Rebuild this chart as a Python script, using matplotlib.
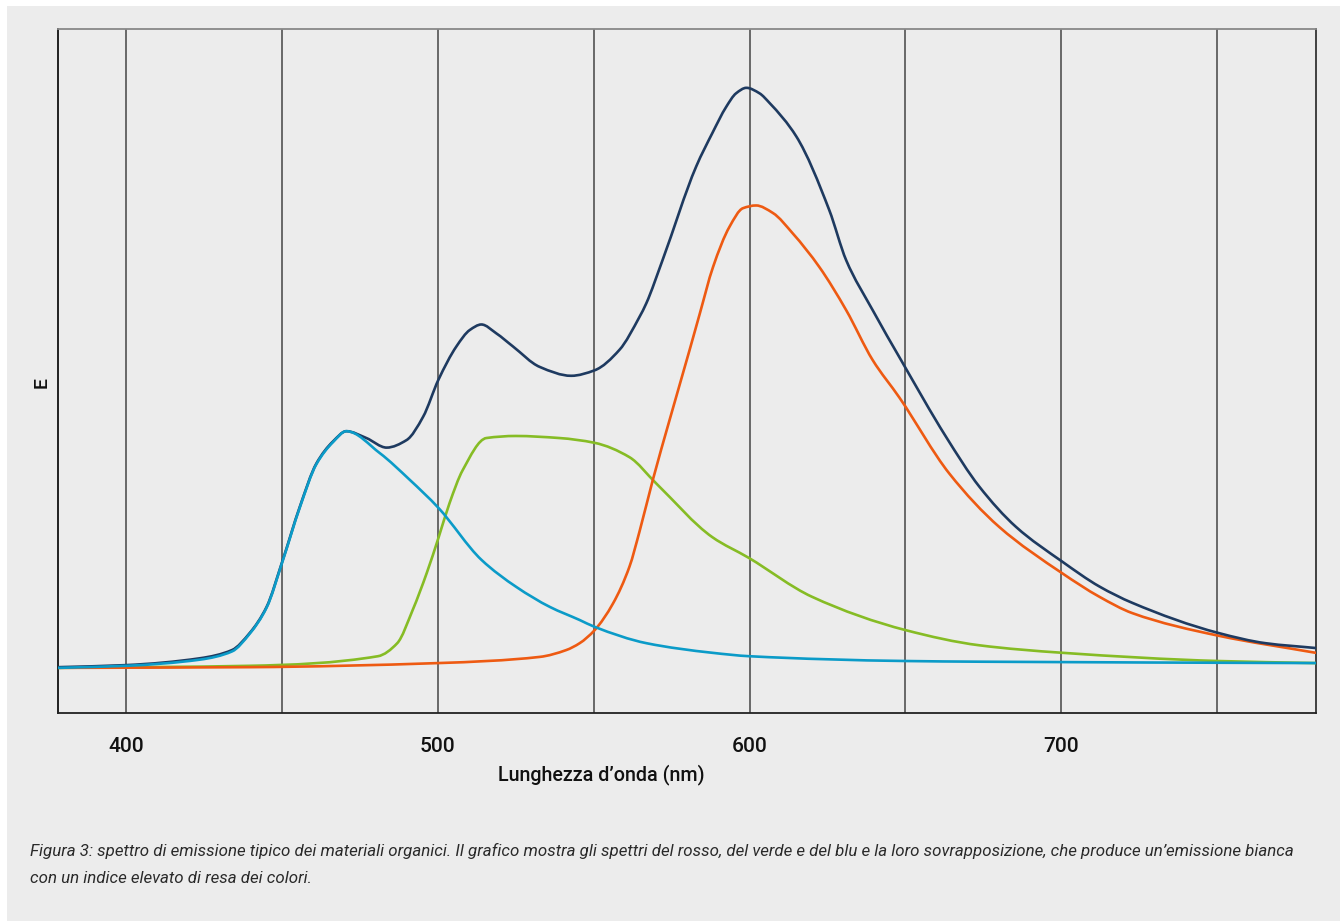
import matplotlib
matplotlib.use("Agg")
import matplotlib.pyplot as plt
import numpy as np
from matplotlib.patches import Rectangle, PathPatch
from matplotlib.path import Path

# ---- data (wavelength nm, emission E in arbitrary units 0-100) ----
white_nm = [378.2, 400.0, 423.7, 434.0, 439.7, 445.1, 450.1, 455.8, 461.1, 466.4, 470.7,
            477.1, 483.6, 490.0, 495.3, 500.2, 506.0, 510.3, 514.0, 518.8, 524.1, 532.7,
            542.8, 550.3, 558.3, 564.7, 566.9, 572.1, 582.9, 588.1, 592.5, 595.7, 599.0,
            603.2, 606.4, 615.0, 625.6, 631.0, 639.5, 648.6, 663.0, 673.7, 685.5, 700.4,
            712.2, 722.8, 750.4, 765.6, 781.6]
white_E = [6.7, 7.0, 8.0, 9.2, 11.7, 15.5, 22.1, 30.2, 36.5, 39.7, 41.2,
           40.2, 38.8, 39.9, 43.3, 48.7, 53.6, 56.0, 56.8, 55.5, 53.6, 50.6,
           49.3, 50.1, 53.1, 57.9, 59.9, 66.2, 79.9, 84.8, 88.6, 90.6, 91.4,
           90.6, 89.2, 84.3, 73.5, 66.2, 58.9, 51.6, 40.4, 33.1, 27.2, 22.1,
           18.5, 16.1, 11.7, 10.2, 9.5]

red_nm = [378.2, 439.7, 500.2, 532.7, 541.2, 545.5, 550.3, 556.2, 561.5, 564.7, 569.0,
          574.4, 580.8, 584.0, 588.3, 593.6, 597.9, 602.1, 607.5, 613.9, 622.4, 631.0,
          639.5, 648.1, 664.1, 680.1, 700.4, 712.2, 722.8, 750.4, 781.6]
red_E = [6.6, 6.7, 7.3, 8.2, 9.2, 10.2, 12.1, 16.0, 21.4, 26.5, 34.1,
         42.9, 53.1, 58.3, 65.2, 71.1, 73.8, 74.2, 73.1, 70.1, 65.2, 58.9,
         51.6, 46.1, 35.0, 27.2, 20.4, 17.0, 14.6, 11.3, 8.8]

green_nm = [378.2, 439.7, 480.8, 487.0, 492.0, 496.5, 500.3, 503.8, 508.0, 515.6, 525.0,
            539.0, 550.3, 561.5, 570.0, 588.1, 599.7, 620.0, 650.2, 673.7, 700.4, 750.4, 781.6]
green_E = [6.6, 6.9, 8.3, 10.2, 15.1, 20.5, 25.7, 30.7, 35.5, 40.2, 40.5,
           40.2, 39.5, 37.4, 33.6, 25.7, 22.7, 17.0, 12.1, 9.9, 8.8, 7.6, 7.3]

blue_nm = [378.2, 400.0, 423.7, 434.0, 439.7, 445.1, 450.1, 455.8, 461.1, 466.4, 470.7,
           481.4, 491.0, 500.2, 514.0, 525.3, 536.0, 545.5, 550.3, 567.0, 588.1, 600.0,
           650.2, 673.7, 781.6]
blue_E = [6.6, 6.9, 7.8, 9.0, 11.6, 15.4, 22.0, 30.1, 36.4, 39.6, 41.2,
          38.0, 34.1, 30.0, 22.4, 18.4, 15.5, 13.6, 12.6, 10.2, 8.8, 8.3,
          7.6, 7.5, 7.3]

grid_nm = [400, 450, 500, 550, 600, 650, 700, 750]
tick_nm = [400, 500, 600, 700]
xlabel = "Lunghezza d\u2019onda (nm)"
ylabel = "E"
caption_lines = ["Figura 3: spettro di emissione tipico dei materiali organici. Il grafico mostra gli spettri "
                 "del rosso, del verde e del blu e la loro sovrapposizione, che produce un\u2019emissione bianca",
                 "con un indice elevato di resa dei colori."]


def smooth_path(xs, ys):
    """Bezier path through the data points (monotone Hermite tangents)."""
    x = np.asarray(xs, float)
    y = np.asarray(ys, float)
    h = np.diff(x)
    d = np.diff(y) / h
    m = np.zeros_like(x)
    m[0], m[-1] = d[0], d[-1]
    for i in range(1, len(x) - 1):
        if d[i - 1] * d[i] <= 0:
            m[i] = 0.0
        else:
            w1 = 2 * h[i] + h[i - 1]
            w2 = h[i] + 2 * h[i - 1]
            m[i] = (w1 + w2) / (w1 / d[i - 1] + w2 / d[i])
    verts = [(x[0], y[0])]
    codes = [Path.MOVETO]
    for i in range(len(x) - 1):
        verts += [(x[i] + h[i] / 3, y[i] + m[i] * h[i] / 3),
                  (x[i + 1] - h[i] / 3, y[i + 1] - m[i + 1] * h[i] / 3),
                  (x[i + 1], y[i + 1])]
        codes += [Path.CURVE4] * 3
    return Path(verts, codes)


BG = "#ececec"
fig = plt.figure(figsize=(13.4, 9.21), dpi=100, facecolor="white")
fig.patches.append(Rectangle((7 / 1340, 0), 1, 1 - 6 / 921, transform=fig.transFigure,
                             facecolor=BG, edgecolor="none", zorder=-10))

ax = fig.add_axes([58 / 1340, 1 - 713 / 921, (1316 - 58) / 1340, (713 - 29) / 921])
ax.set_facecolor(BG)
ax.set_xlim(378.2, 781.7)
ax.set_ylim(0, 100)

for g in grid_nm:
    ax.axvline(g, color="#444444", lw=1.1, zorder=1)

lw = 1.9
for xs, ys, col, z in [(green_nm, green_E, "#86bc25", 3),
                       (red_nm, red_E, "#ee5a12", 3),
                       (white_nm, white_E, "#1e3a60", 4),
                       (blue_nm, blue_E, "#0b9bc8", 5)]:
    ax.add_patch(PathPatch(smooth_path(xs, ys), fill=False, edgecolor=col, lw=lw,
                           zorder=z, capstyle="round", joinstyle="round"))

ax.set_yticks([])
ax.set_xticks(tick_nm)
ax.set_xticklabels([str(t) for t in tick_nm], fontsize=15, fontweight="medium",
                   family=["Roboto", "DejaVu Sans"])
ax.tick_params(axis="x", length=0, pad=17, colors="#111111")

for side, col in [("left", "#111111"), ("bottom", "#222222"), ("top", "#888888"), ("right", "#333333")]:
    ax.spines[side].set_color(col)
    ax.spines[side].set_linewidth(1.3)

fig.text(601 / 1340, 1 - 775 / 921, xlabel, ha="center", va="center", fontsize=14.2,
         fontweight="medium", family=["Roboto", "DejaVu Sans"], color="#111111")
fig.text(42 / 1340, 1 - 383 / 921, ylabel, ha="center", va="center", rotation=90, fontsize=14,
         fontweight="medium", family=["Roboto", "DejaVu Sans"], color="#111111")
for k, line in enumerate(caption_lines):
    fig.text(30 / 1340, 1 - (851 + 27 * k) / 921, line, ha="left", va="center", fontsize=12.2,
             style="italic", family=["Roboto", "DejaVu Sans"], color="#2a2a2a")

fig.savefig("out.png", dpi=100, facecolor=fig.get_facecolor())
